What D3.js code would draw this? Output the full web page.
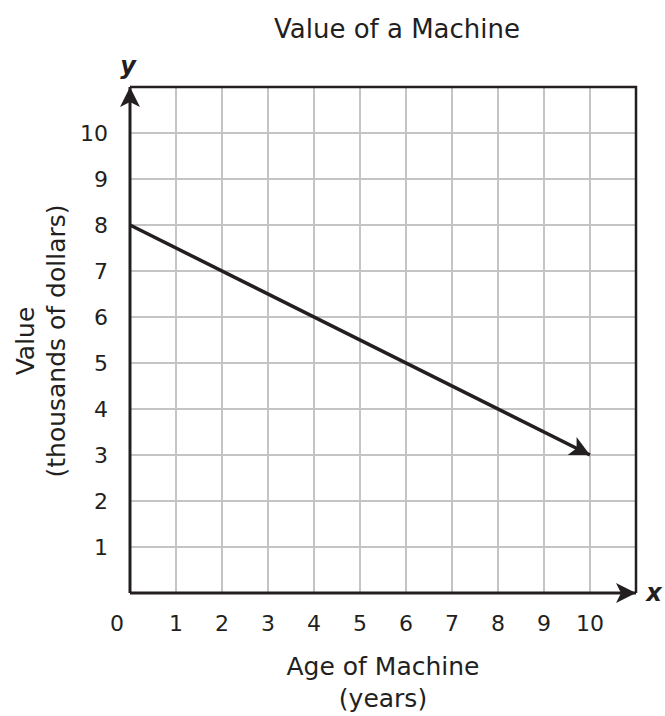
<!DOCTYPE html>
<html>
<head>
<meta charset="utf-8">
<script src="https://cdn.jsdelivr.net/npm/d3@7"></script>
<style>
  body { margin: 0; background: #fff; }
  text { font-family: "DejaVu Sans", Verdana, sans-serif; fill: #231f20; }
</style>
</head>
<body>
<svg id="chart" width="665" height="716"></svg>
<script>
// data
var xTicks = [1, 2, 3, 4, 5, 6, 7, 8, 9, 10];
var yTicks = [1, 2, 3, 4, 5, 6, 7, 8, 9, 10];
var gridX = [1, 2, 3, 4, 5, 6, 7, 8, 9, 10];
var gridY = [1, 2, 3, 4, 5, 6, 7, 8, 9, 10];
var lineAge = [0, 10];
var lineValue = [8, 3];

var svg = d3.select("#chart");
var x = d3.scaleLinear().domain([0, 11]).range([130, 636]);
var y = d3.scaleLinear().domain([0, 11]).range([593, 87]);

var defs = svg.append("defs");
defs.append("marker")
  .attr("id", "arr")
  .attr("viewBox", "0 0 10 10")
  .attr("refX", 10).attr("refY", 5)
  .attr("markerWidth", 26).attr("markerHeight", 20)
  .attr("markerUnits", "userSpaceOnUse")
  .attr("orient", "auto")
  .append("path").attr("d", "M0,0 L10,5 L0,10 L2.5,5 Z").attr("fill", "#231f20");

// grid
svg.selectAll("line.gx").data(gridX).join("line")
  .attr("class", "gx")
  .attr("x1", d => x(d)).attr("x2", d => x(d))
  .attr("y1", y(11)).attr("y2", y(0))
  .attr("stroke", "#c4c4c4").attr("stroke-width", 2);
svg.selectAll("line.gy").data(gridY).join("line")
  .attr("class", "gy")
  .attr("y1", d => y(d)).attr("y2", d => y(d))
  .attr("x1", x(0)).attr("x2", x(11))
  .attr("stroke", "#c4c4c4").attr("stroke-width", 2);

// frame (top and right)
svg.append("path")
  .attr("d", `M${x(0)},${y(11)} L${x(11)},${y(11)} L${x(11)},${y(0)}`)
  .attr("fill", "none").attr("stroke", "#231f20").attr("stroke-width", 2.5);

// axes with arrows
svg.append("line")
  .attr("x1", x(0)).attr("y1", y(0)).attr("x2", x(0)).attr("y2", y(11))
  .attr("stroke", "#231f20").attr("stroke-width", 3)
  .attr("marker-end", "url(#arr)");
svg.append("line")
  .attr("x1", x(0)).attr("y1", y(0)).attr("x2", x(11)).attr("y2", y(0))
  .attr("stroke", "#231f20").attr("stroke-width", 3)
  .attr("marker-end", "url(#arr)");

// tick labels
svg.selectAll("text.xt").data(xTicks).join("text")
  .attr("class", "xt")
  .attr("x", d => x(d)).attr("y", 631)
  .attr("text-anchor", "middle").attr("font-size", 22)
  .text(d => d);
svg.append("text").attr("x", 117).attr("y", 631)
  .attr("text-anchor", "middle").attr("font-size", 22).text("0");
svg.selectAll("text.yt").data(yTicks).join("text")
  .attr("class", "yt")
  .attr("x", 108).attr("y", d => y(d) + 8)
  .attr("text-anchor", "end").attr("font-size", 22)
  .text(d => d);

// line
svg.append("line")
  .attr("x1", x(lineAge[0])).attr("y1", y(lineValue[0]))
  .attr("x2", x(lineAge[1])).attr("y2", y(lineValue[1]))
  .attr("stroke", "#231f20").attr("stroke-width", 3.5)
  .attr("marker-end", "url(#arr)");

// axis letters
svg.append("text").attr("x", 128).attr("y", 74)
  .attr("text-anchor", "middle").attr("font-size", 24)
  .attr("font-weight", "bold").attr("font-style", "italic").text("y");
svg.append("text").attr("x", 654).attr("y", 601)
  .attr("text-anchor", "middle").attr("font-size", 24)
  .attr("font-weight", "bold").attr("font-style", "italic").text("x");

// titles
svg.append("text").attr("x", 397).attr("y", 38)
  .attr("text-anchor", "middle").attr("font-size", 26).text("Value of a Machine");
svg.append("text").attr("x", 383).attr("y", 675)
  .attr("text-anchor", "middle").attr("font-size", 25).text("Age of Machine");
svg.append("text").attr("x", 383).attr("y", 707)
  .attr("text-anchor", "middle").attr("font-size", 25).text("(years)");
svg.append("text").attr("transform", "translate(34,341) rotate(-90)")
  .attr("text-anchor", "middle").attr("font-size", 25).text("Value");
svg.append("text").attr("transform", "translate(65,341) rotate(-90)")
  .attr("text-anchor", "middle").attr("font-size", 25).text("(thousands of dollars)");
</script>
</body>
</html>
